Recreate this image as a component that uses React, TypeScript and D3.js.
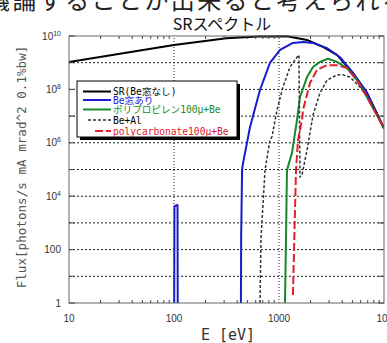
import React, { useRef, useEffect } from 'react';
import * as d3 from 'd3';

type Pt = [number, number]; // [energy eV, flux]

// curves
const srCurve: Pt[] = [
  [10, 1.07e9], [31.6, 2.2e9], [100, 4.6e9], [316, 8.3e9], [630, 9.6e9], [1190, 9.7e9],
  [1850, 7.1e9], [2620, 3.9e9], [3560, 1.95e9], [5070, 4.1e8], [6890, 7.4e7], [10000, 3.5e6]
];
const beSpike: Pt[] = [[100.5, 1], [101, 4200], [108, 4700], [108.5, 1]];
const beCurve: Pt[] = [
  [434, 1], [436, 300], [445, 9.5e4], [454, 1.7e5], [530, 3.9e6], [659, 9.5e7], [820, 9.8e8],
  [1023, 3e9], [1358, 5.5e9], [1694, 6e9], [2109, 5.5e9], [2864, 3.5e9], [3811, 1.6e9],
  [5070, 4.1e8], [6887, 7.4e7], [10000, 3.5e6]
];
const ppCurve: Pt[] = [
  [1140, 1], [1167, 300], [1191, 9.5e4], [1330, 4.2e5], [1419, 2.3e6], [1483, 7e6], [1585, 5.2e7],
  [1849, 2.9e8], [2109, 6.9e8], [2455, 1.07e9], [2931, 1.4e9], [3565, 1.07e9], [4446, 6.3e8],
  [5534, 2.2e8], [6887, 5.2e7], [10000, 3.5e6]
];
const beAlCurve: Pt[] = [
  [659, 1], [675, 300], [736, 9.5e4], [820, 1.26e6], [857, 1.66e6], [957, 1.7e7], [1091, 1.23e8],
  [1274, 6.9e8], [1483, 1.6e9], [1549, 1.95e9], [1585, 5.2e4], [1656, 6.2e4], [1849, 5.4e5],
  [2109, 1.1e7], [2455, 7.4e7], [2864, 2.2e8], [3565, 3.5e8], [4074, 3.5e8], [4742, 2.9e8],
  [5902, 1.23e8], [7362, 4e7], [10000, 3.5e6]
];
const pcCurve: Pt[] = [
  [1358, 2], [1390, 98], [1452, 9.5e4], [1517, 1.26e6], [1656, 7e6], [1694, 1.7e7], [1972, 1.74e8],
  [2301, 5.4e8], [2864, 8.1e8], [3565, 8.1e8], [4446, 6.3e8], [5534, 2.2e8], [6887, 5.2e7],
  [10000, 3.5e6]
];

const xTicks = [10, 100, 1000, 10000];
const yTicks = [1, 100, 1e4, 1e6, 1e8, 1e10];
const legendLabels = ['SR(Be窓なし)', 'Be窓あり', 'ポリプロピレン100μ+Be', 'Be+Al', 'polycarbonate100μ+Be'];

const series = [
  { name: legendLabels[0], segs: [srCurve], color: '#000000', width: 2, dash: '', text: '#000000' },
  { name: legendLabels[1], segs: [beSpike, beCurve], color: '#1a1ad0', width: 2, dash: '', text: '#1a1ad0' },
  { name: legendLabels[2], segs: [ppCurve], color: '#168a2a', width: 2, dash: '', text: '#168a2a' },
  { name: legendLabels[3], segs: [beAlCurve], color: '#333333', width: 1.5, dash: '3,2', text: '#000000' },
  { name: legendLabels[4], segs: [pcCurve], color: '#e0202a', width: 2, dash: '8,3', text: '#e0202a' }
];

const W = 387, H = 343;
const margin = { top: 36, right: 3, bottom: 40, left: 69 };
const mono = '"DejaVu Sans Mono", "Noto Sans CJK JP", monospace';
const jp = '"Noto Sans CJK JP", sans-serif';

const App: React.FC = () => {
  const svgRef = useRef<SVGSVGElement>(null);

  useEffect(() => {
    if (!svgRef.current) return;
    const svg = d3.select(svgRef.current);
    svg.selectAll('*').remove();

    const x0 = margin.left, x1 = W - margin.right;
    const y0 = H - margin.bottom, y1 = margin.top;
    const x = d3.scaleLog().domain([10, 1e4]).range([x0, x1]);
    const y = d3.scaleLog().domain([1, 1e10]).range([y0, y1]).clamp(true);

    svg.append('rect').attr('width', W).attr('height', H).attr('fill', '#ffffff');

    // page text cut at the top
    svg.append('text')
      .attr('x', -14).attr('y', 9)
      .attr('font-family', jp).attr('font-size', 24).attr('letter-spacing', 2.4)
      .attr('fill', '#222')
      .text('議論することが出来ると考えられる');

    svg.append('text')
      .attr('x', 222).attr('y', 30).attr('text-anchor', 'middle')
      .attr('font-family', jp).attr('font-size', 16).attr('fill', '#111')
      .text('SRスペクトル');

    // grid
    const decades = d3.range(1, 10).map(k => Math.pow(10, k));
    svg.append('g').selectAll('line').data(decades).enter().append('line')
      .attr('x1', x0).attr('x2', x1)
      .attr('y1', d => y(d)).attr('y2', d => y(d))
      .attr('stroke', '#222').attr('stroke-width', 1).attr('stroke-dasharray', '2,2');
    svg.append('g').selectAll('line').data([100, 1000]).enter().append('line')
      .attr('x1', d => x(d)).attr('x2', d => x(d))
      .attr('y1', y0).attr('y2', y1)
      .attr('stroke', '#222').attr('stroke-width', 1).attr('stroke-dasharray', '1,2');

    // curves
    svg.append('clipPath').attr('id', 'plotclip').append('rect')
      .attr('x', x0).attr('y', y1 - 1).attr('width', x1 - x0).attr('height', y0 - y1 + 1);
    const line = d3.line<Pt>().x(d => x(d[0])).y(d => y(d[1]));
    const cg = svg.append('g').attr('clip-path', 'url(#plotclip)');
    series.forEach(s => {
      s.segs.forEach(seg => {
        cg.append('path').attr('d', line(seg) || '')
          .attr('fill', 'none').attr('stroke', s.color).attr('stroke-width', s.width)
          .attr('stroke-dasharray', s.dash || null).attr('stroke-linejoin', 'round');
      });
    });

    // frame and ticks
    svg.append('rect').attr('x', x0).attr('y', y1).attr('width', x1 - x0).attr('height', y0 - y1)
      .attr('fill', 'none').attr('stroke', '#666').attr('stroke-width', 1);
    const minor: number[] = [];
    [10, 100, 1000].forEach(d => d3.range(2, 10).forEach(m => minor.push(m * d)));
    const tg = svg.append('g').attr('stroke', '#444').attr('stroke-width', 1);
    minor.forEach(v => {
      tg.append('line').attr('x1', x(v)).attr('x2', x(v)).attr('y1', y0).attr('y2', y0 - 3);
      tg.append('line').attr('x1', x(v)).attr('x2', x(v)).attr('y1', y1).attr('y2', y1 + 3);
    });
    d3.range(0, 11).map(k => Math.pow(10, k)).forEach(v => {
      tg.append('line').attr('x1', x0).attr('x2', x0 + 6).attr('y1', y(v)).attr('y2', y(v));
      tg.append('line').attr('x1', x1).attr('x2', x1 - 6).attr('y1', y(v)).attr('y2', y(v));
    });

    // tick labels
    svg.append('g').selectAll('text').data(xTicks).enter().append('text')
      .attr('x', d => x(d)).attr('y', 322).attr('text-anchor', 'middle')
      .attr('font-family', '"Liberation Sans", sans-serif').attr('font-size', 10).attr('fill', '#333')
      .each(function (d) {
        const t = d3.select(this);
        if (d === 10000) {
          t.append('tspan').text('10');
          t.append('tspan').attr('font-size', 7).attr('dy', -4).text('4');
        } else t.text(String(d));
      });
    svg.append('g').selectAll('text').data(yTicks).enter().append('text')
      .attr('x', 61).attr('y', d => y(d) + 3.5).attr('text-anchor', 'end')
      .attr('font-family', '"Liberation Sans", sans-serif').attr('font-size', 10).attr('fill', '#333')
      .each(function (d) {
        const t = d3.select(this);
        const e = Math.round(Math.log10(d));
        if (e <= 2) t.text(String(d));
        else {
          t.append('tspan').text('10');
          t.append('tspan').attr('font-size', 7).attr('dy', -4).text(String(e));
        }
      });

    // axis titles
    svg.append('text')
      .attr('transform', `translate(26,${(42 + 292) / 2}) rotate(-90)`)
      .attr('text-anchor', 'middle').attr('font-family', mono).attr('font-size', 12.6).attr('fill', '#555')
      .text('Flux[photons/s mA mrad^2 0.1%bw]');
    svg.append('text')
      .attr('x', 228).attr('y', 340).attr('text-anchor', 'middle')
      .attr('font-family', mono).attr('font-size', 15).attr('fill', '#333')
      .text('E [eV]');

    // legend
    const lx = 77, ly = 81, lw = 160, lh = 56;
    const lg = svg.append('g');
    lg.append('rect').attr('x', lx + 3).attr('y', ly + 3).attr('width', lw).attr('height', lh).attr('fill', '#000');
    lg.append('rect').attr('x', lx).attr('y', ly).attr('width', lw).attr('height', lh)
      .attr('fill', '#fff').attr('stroke', '#000').attr('stroke-width', 1);
    const rows = [10.5, 19, 28.5, 39, 50];
    series.forEach((s, i) => {
      const ry = ly + rows[i];
      const start = s.dash === '3,2' ? lx + 11 : s.dash ? lx + 18 : lx + 6;
      lg.append('line').attr('x1', start).attr('x2', lx + 34).attr('y1', ry).attr('y2', ry)
        .attr('stroke', s.color).attr('stroke-width', s.width).attr('stroke-dasharray', s.dash || null);
      lg.append('text').attr('x', lx + 36).attr('y', ry + 3.5)
        .attr('font-family', mono).attr('font-size', 9.6).attr('fill', s.text)
        .text(s.name);
    });
  }, []);

  return (
    <svg ref={svgRef} width={W} height={H} style={{ position: 'absolute', left: 0, top: 0 }}></svg>
  );
};

export default App;
